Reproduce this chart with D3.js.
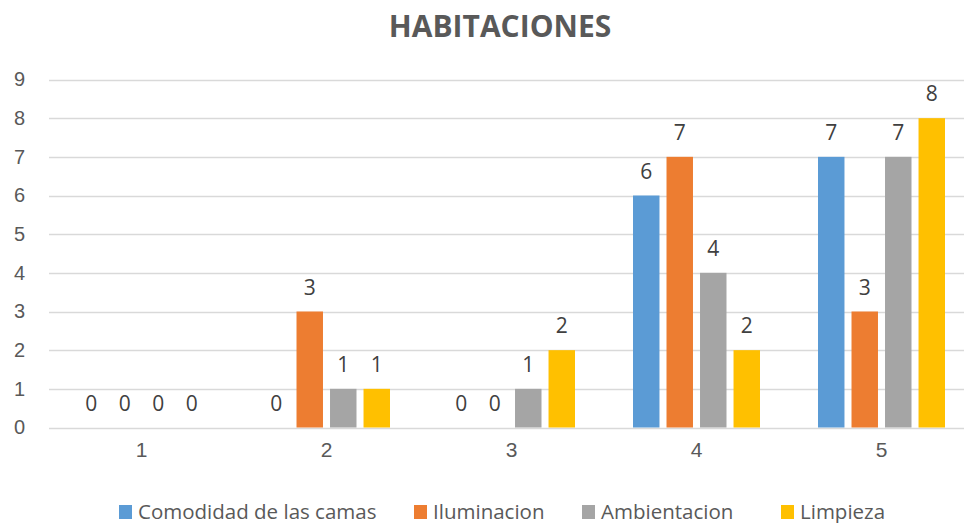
<!DOCTYPE html>
<html>
<head>
<meta charset="utf-8">
<script src="https://cdn.jsdelivr.net/npm/d3@7"></script>
<style>
  body { margin: 0; background: #fff; }
  svg { display: block; font-family: "Open Sans", sans-serif; }
</style>
</head>
<body>
<svg id="chart" width="964" height="523"></svg>
<script>
// data
var categories = ['1', '2', '3', '4', '5'];
var seriesNames = ['Comodidad de las camas', 'Iluminacion', 'Ambientacion', 'Limpieza'];
var comodidad = [0, 0, 0, 6, 7];
var iluminacion = [0, 3, 0, 7, 3];
var ambientacion = [0, 1, 1, 4, 7];
var limpieza = [0, 1, 2, 2, 8];
var yTicks = [0, 1, 2, 3, 4, 5, 6, 7, 8, 9];
var colors = ['#5B9BD5', '#ED7D31', '#A5A5A5', '#FFC000'];

var values = [comodidad, iluminacion, ambientacion, limpieza];

var svg = d3.select('#chart');
var margin = {top: 79.5, left: 49, bottom: 95.5};
var plotRight = 974;
var plotBottom = 523 - margin.bottom;

var x = d3.scaleBand().domain(categories).range([margin.left, plotRight]);
var x1 = d3.scaleBand().domain(seriesNames)
    .range([29, x.bandwidth() - 29])
    .paddingInner(0.21).paddingOuter(0);
var y = d3.scaleLinear().domain([0, 9]).range([plotBottom, margin.top]);

// title
svg.append('text')
    .attr('x', 500).attr('y', 37)
    .attr('text-anchor', 'middle')
    .attr('font-size', 30).attr('font-weight', 'bold')
    .attr('fill', '#595959')
    .text('HABITACIONES');

// gridlines
svg.append('g').selectAll('line')
  .data(yTicks)
  .join('line')
    .attr('x1', margin.left).attr('x2', plotRight)
    .attr('y1', function(d) { return Math.round(y(d)) + 0.5; })
    .attr('y2', function(d) { return Math.round(y(d)) + 0.5; })
    .attr('stroke', '#D9D9D9').attr('stroke-width', 1.5);

// y axis labels
var yAxis = d3.axisLeft(y).tickValues(yTicks).tickSize(0).tickPadding(0);
var yG = svg.append('g')
    .attr('transform', 'translate(25,0)')
    .call(yAxis);
yG.select('.domain').remove();
yG.selectAll('text').attr('font-size', 20).attr('fill', '#595959').attr('font-family', null);

// x axis labels
var xAxis = d3.axisBottom(x).tickSize(0).tickPadding(0);
var xG = svg.append('g')
    .attr('transform', 'translate(0,' + (plotBottom + 29) + ')')
    .call(xAxis);
xG.select('.domain').remove();
xG.selectAll('text').attr('font-size', 21).attr('fill', '#595959')
    .attr('font-family', null).attr('dy', 0);

// bars
var groups = svg.append('g').selectAll('g')
  .data(categories)
  .join('g')
    .attr('transform', function(d) { return 'translate(' + x(d) + ',0)'; });

var cells = groups.selectAll('g')
  .data(function(d, i) {
    return seriesNames.map(function(s, j) { return {series: s, idx: j, value: values[j][i]}; });
  })
  .join('g');

cells.append('rect')
    .attr('x', function(d) { return x1(d.series); })
    .attr('width', x1.bandwidth())
    .attr('y', function(d) { return y(d.value); })
    .attr('height', function(d) { return y(0) - y(d.value); })
    .attr('fill', function(d) { return colors[d.idx]; });

cells.append('text')
    .attr('x', function(d) { return x1(d.series) + x1.bandwidth() / 2; })
    .attr('y', function(d) { return y(d.value) - 17; })
    .attr('text-anchor', 'middle')
    .attr('font-size', 21).attr('fill', '#404040')
    .text(function(d) { return d.value; });

// legend
var legendX = [119, 414, 582, 781];
var legend = svg.append('g').selectAll('g')
  .data(seriesNames)
  .join('g')
    .attr('transform', function(d, i) { return 'translate(' + legendX[i] + ',505)'; });
legend.append('rect')
    .attr('width', 13).attr('height', 14)
    .attr('fill', function(d, i) { return colors[i]; });
legend.append('text')
    .attr('x', 19).attr('y', 13.5)
    .attr('font-size', 20.5).attr('fill', '#595959')
    .text(function(d) { return d; });
</script>
</body>
</html>
